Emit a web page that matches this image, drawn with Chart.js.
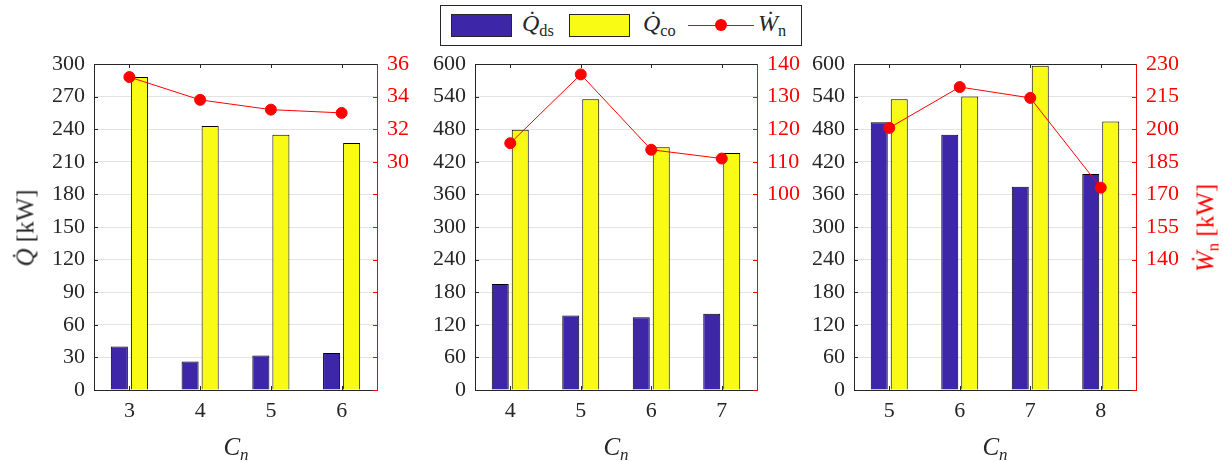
<!DOCTYPE html>
<html>
<head>
<meta charset="utf-8">
<script src="https://cdn.jsdelivr.net/npm/chart.js@4.4.0/dist/chart.umd.min.js"></script>
<style>
  html, body { margin:0; padding:0; background:#fff; }
  #wrap { position:relative; width:1223px; height:462px; overflow:hidden; font-family:'Liberation Serif', serif; color:#262626; }
  .pane { position:absolute; top:0; }
  .lbl { position:absolute; white-space:nowrap; font-size:25px; line-height:1; }
  .rot { transform:translate(-50%,-50%) rotate(-90deg); }
  .ctr { transform:translate(-50%,-50%); }
  sub { font-size:0.68em; vertical-align:-0.3em; line-height:0; }
  #legend { position:absolute; left:440px; top:5px; width:360px; height:39px; border:1px solid #262626; background:#fff; }
  .sw { position:absolute; top:8px; width:61px; height:23px; border:1px solid #262626; box-sizing:border-box; }
  .lt { position:absolute; top:5px; font-size:24px; line-height:1; }
</style>
</head>
<body>
<div id="wrap">
  <div class="pane" style="left:0px;"><canvas id="c1" width="420" height="462"></canvas></div>
  <div class="pane" style="left:420px;"><canvas id="c2" width="388" height="462"></canvas></div>
  <div class="pane" style="left:808px;"><canvas id="c3" width="415" height="462"></canvas></div>

  <div class="lbl rot" style="left:25px; top:228px;"><i>Q̇</i> [kW]</div>
  <div class="lbl rot" style="left:1205px; top:228px; color:#ff0000;"><i>Ẇ</i><sub>n</sub> [kW]</div>
  <div class="lbl ctr" style="left:236px; top:446px;"><i>C<sub>n</sub></i></div>
  <div class="lbl ctr" style="left:616px; top:446px;"><i>C<sub>n</sub></i></div>
  <div class="lbl ctr" style="left:995px; top:446px;"><i>C<sub>n</sub></i></div>

  <div id="legend">
    <div class="sw" style="left:10px; background:#3e26a8;"></div>
    <div class="lt" style="left:81px;"><i>Q̇</i><sub>ds</sub></div>
    <div class="sw" style="left:128px; background:#f9fb15;"></div>
    <div class="lt" style="left:202px;"><i>Q̇</i><sub>co</sub></div>
    <div style="position:absolute; left:247px; top:19px; width:66px; height:1px; background:#ff0000;"></div>
    <div style="position:absolute; left:274px; top:13px; width:12px; height:12px; border-radius:50%; background:#ff0000;"></div>
    <div class="lt" style="left:317px;"><i>Ẇ</i><sub>n</sub></div>
  </div>
</div>
<script>
// ---------- data ----------
const categories1 = ['3', '4', '5', '6'];
const qds1 = [40.1, 26.3, 31.8, 34.0];
const qco1 = [288, 243, 235, 227.3];
const wn1  = [35.2, 33.8, 33.2, 33.0];

const categories2 = ['4', '5', '6', '7'];
const qds2 = [195, 137, 134, 140.5];
const qco2 = [479, 535, 447, 436];
const wn2  = [115.7, 136.8, 113.7, 111.0];

const categories3 = ['5', '6', '7', '8'];
const qds3 = [493, 470, 374, 397.5];
const qco3 = [535, 540, 597, 494];
const wn3  = [200.6, 219.4, 214.4, 173.1];

const leftTicks1 = [0, 30, 60, 90, 120, 150, 180, 210, 240, 270, 300];
const leftTicks23 = [0, 60, 120, 180, 240, 300, 360, 420, 480, 540, 600];
const rightTicks1 = [16, 18, 20, 22, 24, 26, 28, 30, 32, 34, 36];
const rightLabels1 = [30, 32, 34, 36];
const rightTicks2 = [40, 50, 60, 70, 80, 90, 100, 110, 120, 130, 140];
const rightLabels2 = [100, 110, 120, 130, 140];
const rightTicks3 = [80, 95, 110, 125, 140, 155, 170, 185, 200, 215, 230];
const rightLabels3 = [140, 155, 170, 185, 200, 215, 230];

// ---------- style ----------
const FONT = "'Liberation Serif', serif";
const AX = '#262626';
const BLUE = '#3e26a8';
const YEL = '#f9fb15';
const RED = '#ff0000';

const framePlugin = {
  id: 'frame',
  afterDatasetsDraw(chart) {
    const ctx = chart.ctx, a = chart.chartArea;
    const x = chart.scales.x, y = chart.scales.y, y1 = chart.scales.y1;
    ctx.save();
    ctx.lineWidth = 1;
    ctx.strokeStyle = AX;
    ctx.beginPath();
    y.ticks.forEach((t, i) => { const p = Math.round(y.getPixelForTick(i)) + 0.5; ctx.moveTo(a.left, p); ctx.lineTo(a.left + 4, p); });
    x.ticks.forEach((t, i) => { const p = Math.round(x.getPixelForTick(i)) + 0.5; ctx.moveTo(p, a.bottom); ctx.lineTo(p, a.bottom - 4); ctx.moveTo(p, a.top); ctx.lineTo(p, a.top + 4); });
    ctx.stroke();
    ctx.strokeStyle = RED;
    ctx.beginPath();
    y1.ticks.forEach((t, i) => { const p = Math.round(y1.getPixelForTick(i)) + 0.5; ctx.moveTo(a.right, p); ctx.lineTo(a.right - 4, p); });
    ctx.stroke();
    ctx.strokeStyle = AX;
    ctx.beginPath();
    ctx.moveTo(a.left, Math.round(a.top) + 0.5);
    ctx.lineTo(a.right, Math.round(a.top) + 0.5);
    ctx.stroke();
    ctx.restore();
  }
};

function makeChart(id, cats, qds, qco, wn, lTicks, rTicks, rLabels, leftW, rightW) {
  const ctx = document.getElementById(id);
  return new Chart(ctx, {
    data: {
      labels: cats,
      datasets: [
        { type: 'line', data: wn, yAxisID: 'y1', order: 0, borderColor: RED, backgroundColor: RED,
          borderWidth: 1, pointRadius: 5.5, pointBorderWidth: 1, pointBackgroundColor: RED, pointBorderColor: RED, tension: 0 },
        { type: 'bar', data: qds, yAxisID: 'y', order: 1, backgroundColor: BLUE, borderColor: '#000', borderWidth: 1,
          barPercentage: 0.85, categoryPercentage: 0.567 },
        { type: 'bar', data: qco, yAxisID: 'y', order: 1, backgroundColor: YEL, borderColor: '#000', borderWidth: 1,
          barPercentage: 0.85, categoryPercentage: 0.567 }
      ]
    },
    options: {
      responsive: false,
      animation: false,
      devicePixelRatio: 1,
      layout: { padding: { top: 64, left: 0, right: 0, bottom: 0 } },
      plugins: { legend: { display: false }, tooltip: { enabled: false } },
      scales: {
        x: {
          type: 'category', offset: true,
          grid: { drawOnChartArea: false, drawTicks: false },
          border: { color: AX, width: 1 },
          ticks: { color: AX, font: { family: FONT, size: 22 }, padding: 8, maxRotation: 0 },
          afterFit(s) { s.height = 72; }
        },
        y: {
          position: 'left', min: lTicks[0], max: lTicks[lTicks.length - 1],
          afterBuildTicks(s) { s.ticks = lTicks.map(v => ({ value: v })); },
          grid: { color: '#e3e3e3', lineWidth: 1, drawTicks: false },
          border: { color: AX, width: 1 },
          ticks: { color: AX, font: { family: FONT, size: 22 }, padding: 9 },
          afterFit(s) { s.width = leftW; }
        },
        y1: {
          position: 'right', min: rTicks[0], max: rTicks[rTicks.length - 1],
          afterBuildTicks(s) { s.ticks = rTicks.map(v => ({ value: v })); },
          grid: { drawOnChartArea: false, drawTicks: false },
          border: { color: RED, width: 1 },
          ticks: { color: RED, font: { family: FONT, size: 22 }, padding: 10,
                   callback: (v) => rLabels.includes(v) ? String(v) : '' },
          afterFit(s) { s.width = rightW; }
        }
      }
    },
    plugins: [framePlugin]
  });
}

makeChart('c1', categories1, qds1, qco1, wn1, leftTicks1, rightTicks1, rightLabels1, 94, 43);
makeChart('c2', categories2, qds2, qco2, wn2, leftTicks23, rightTicks2, rightLabels2, 55, 51);
makeChart('c3', categories3, qds3, qco3, wn3, leftTicks23, rightTicks3, rightLabels3, 46, 87);
</script>
</body>
</html>
